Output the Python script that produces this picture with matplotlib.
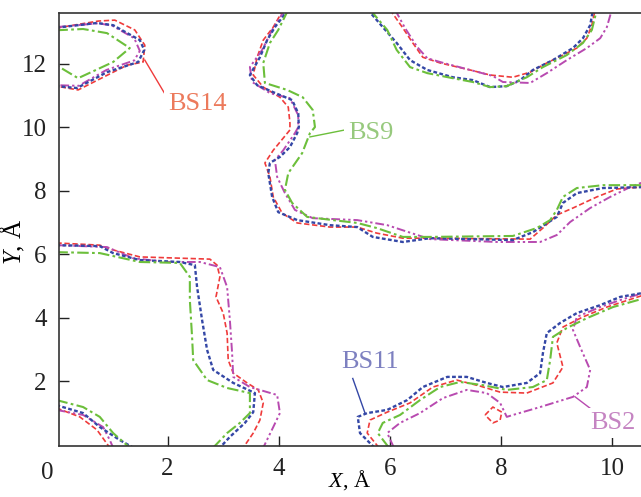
"""Contours of four binding sites (BS2, BS9, BS11, BS14) in the XY plane."""

import matplotlib

matplotlib.use("Agg")
import matplotlib.pyplot as plt  # noqa: E402

plt.rcParams["font.family"] = ["Liberation Serif", "DejaVu Serif"]
plt.rcParams["mathtext.fontset"] = "custom"
plt.rcParams["mathtext.rm"] = "Liberation Serif"
plt.rcParams["mathtext.it"] = "Liberation Serif:italic"

# contour pieces, (x, y) in angstrom
bs14_pieces = [
    [(0.0, 13.12), (0.75, 13.34), (1.05, 13.37), (1.41, 13.06), (1.59, 12.58), (1.56, 12.05),
     (1.27, 11.95), (0.39, 11.17), (0.0, 11.29)],
    [(4.08, 13.7), (3.90, 13.15), (3.72, 12.74), (3.61, 12.20), (3.54, 11.64), (3.72, 11.26),
     (4.02, 10.94), (4.17, 10.63), (4.20, 10.13), (4.20, 9.91), (3.90, 9.27), (3.75, 8.87),
     (3.84, 8.43), (3.90, 7.80), (4.06, 7.29), (4.33, 6.98), (4.92, 6.85), (5.41, 6.85),
     (5.76, 6.66), (6.23, 6.50), (6.72, 6.50), (8.52, 6.47), (8.75, 6.82), (9.00, 7.23),
     (9.29, 7.45), (9.72, 7.80), (10.08, 8.05), (10.6, 8.12)],
    [(6.00, 13.7), (6.22, 13.15), (6.41, 12.65), (6.59, 12.20), (6.90, 12.02), (7.44, 11.80),
     (7.80, 11.64), (8.21, 11.57), (8.52, 11.73), (8.82, 12.02), (9.11, 12.27), (9.36, 12.49),
     (9.54, 12.80), (9.63, 13.21), (9.69, 13.7)],
    [(0.0, 6.35), (0.78, 6.28), (1.02, 6.13), (1.50, 5.91), (2.22, 5.87), (2.76, 5.84),
     (2.89, 5.65), (2.94, 5.28), (2.87, 4.65), (3.00, 4.14), (3.07, 3.51), (3.09, 2.66),
     (3.18, 2.25), (3.43, 1.94), (3.63, 1.72), (3.72, 1.31), (3.66, 0.77), (3.54, 0.36),
     (3.36, -0.1)],
    [(0.0, 1.15), (0.42, 0.87), (0.73, 0.46), (0.96, -0.1)],
    [(5.80, -0.1), (5.59, 0.36), (5.64, 0.77), (5.95, 1.02), (6.36, 1.31), (6.77, 1.81),
     (7.20, 2.03), (7.62, 1.84), (7.98, 1.65), (8.46, 1.62), (8.93, 1.94), (9.11, 2.44),
     (9.00, 3.20), (9.11, 3.70), (9.47, 4.02), (9.90, 4.33), (10.6, 4.73)],
    [(7.71, 0.93), (7.85, 1.18), (8.01, 1.02), (7.98, 0.77), (7.85, 0.68), (7.71, 0.93)],
]

bs11_pieces = [
    [(0.0, 13.13), (0.73, 13.28), (1.02, 13.21), (1.50, 12.74), (1.58, 12.43), (1.47, 12.05),
     (0.91, 11.73), (0.37, 11.23), (0.0, 11.29)],
    [(4.17, 13.7), (3.93, 13.15), (3.79, 12.74), (3.66, 12.20), (3.48, 11.64), (3.61, 11.32),
     (3.90, 11.10), (4.24, 10.85), (4.35, 10.43), (4.36, 10.00), (4.33, 9.81), (4.20, 9.37),
     (4.02, 9.06), (3.84, 8.87), (3.81, 8.55), (3.88, 7.80), (3.99, 7.32), (4.33, 7.07),
     (4.92, 6.91), (5.41, 6.85), (5.69, 6.54), (6.23, 6.38), (6.72, 6.50), (8.21, 6.44),
     (8.57, 6.69), (9.00, 7.17), (9.11, 7.61), (9.36, 7.92), (9.83, 8.08), (10.6, 8.11)],
    [(5.60, 13.7), (5.87, 13.15), (6.12, 12.65), (6.36, 12.11), (6.67, 11.80), (7.13, 11.57),
     (7.49, 11.48), (7.80, 11.26), (8.10, 11.29), (8.34, 11.48), (8.57, 11.80), (8.93, 12.11),
     (9.29, 12.49), (9.47, 12.80), (9.60, 13.21), (9.65, 13.7)],
    [(0.0, 6.28), (0.78, 6.25), (1.02, 6.03), (1.50, 5.81), (2.22, 5.75), (2.49, 5.65),
     (2.53, 4.96), (2.62, 3.92), (2.71, 2.98), (2.82, 2.35), (3.18, 1.94), (3.57, 1.62),
     (3.54, 1.02), (3.39, 0.68), (3.12, 0.24), (2.94, -0.1)],
    [(0.0, 1.24), (0.48, 0.99), (0.78, 0.55), (1.14, 0.14), (1.38, -0.1)],
    [(5.72, -0.1), (5.46, 0.36), (5.42, 0.87), (5.59, 0.99), (5.95, 1.09), (6.31, 1.40),
     (6.59, 1.81), (7.03, 2.13), (7.38, 2.13), (7.74, 1.94), (8.03, 1.81), (8.46, 1.94),
     (8.70, 2.25), (8.75, 2.88), (8.82, 3.51), (9.06, 3.83), (9.36, 4.14), (9.78, 4.39),
     (10.14, 4.65), (10.6, 4.79)],
]

bs2_pieces = [
    [(0.0, 13.15), (0.75, 13.27), (1.00, 13.20), (1.40, 12.80), (1.50, 12.40), (1.40, 12.10),
     (0.90, 11.80), (0.40, 11.30), (0.0, 11.32)],
    [(4.11, 13.7), (3.88, 13.06), (3.70, 12.43), (3.48, 11.89), (3.52, 11.42), (3.84, 11.07),
     (4.20, 10.91), (4.35, 10.37), (4.35, 10.00), (4.29, 9.81), (4.08, 9.27), (3.93, 8.96),
     (3.97, 8.43), (4.11, 7.92), (4.29, 7.39), (4.61, 7.13), (5.41, 7.07), (5.95, 6.91),
     (6.49, 6.60), (6.72, 6.47), (7.92, 6.38), (8.70, 6.38), (9.00, 6.60), (9.24, 7.01),
     (9.60, 7.45), (9.96, 7.80), (10.32, 8.11), (10.6, 8.30)],
    [(6.09, 13.7), (6.27, 13.12), (6.49, 12.52), (6.67, 12.17), (6.90, 12.05), (7.44, 11.80),
     (7.85, 11.61), (8.03, 11.42), (8.52, 11.39), (8.82, 11.70), (9.18, 12.11), (9.54, 12.49),
     (9.78, 12.80), (9.90, 13.15), (9.99, 13.7)],
    [(0.0, 6.28), (0.91, 6.22), (1.38, 5.87), (1.99, 5.75), (2.58, 5.75), (2.94, 5.59),
     (3.07, 4.96), (3.12, 3.92), (3.16, 2.88), (3.18, 2.13), (3.48, 1.81), (3.97, 1.56),
     (4.02, 0.99), (3.90, 0.55), (3.72, -0.1)],
    [(0.0, 1.09), (0.48, 0.93), (0.84, 0.55), (0.96, 0.14), (1.02, -0.1)],
    [(6.07, -0.1), (5.95, 0.36), (6.18, 0.68), (6.54, 0.99), (6.95, 1.46), (7.38, 1.72),
     (7.74, 1.62), (7.98, 1.31), (8.10, 0.87), (8.21, 0.93), (8.70, 1.18), (9.29, 1.50),
     (9.54, 1.81), (9.60, 2.35), (9.42, 3.07), (9.29, 3.61), (9.36, 4.02), (9.78, 4.33),
     (10.14, 4.55), (10.6, 4.80)],
]

bs9_pieces = [
    [(0.0, 13.05), (0.48, 13.09), (0.91, 12.96), (1.32, 12.49), (1.02, 12.05), (0.39, 11.54),
     (0.0, 11.95)],
    [(4.17, 13.7), (3.99, 13.06), (3.84, 12.65), (3.72, 12.02), (3.75, 11.39), (4.15, 11.17),
     (4.43, 10.94), (4.61, 10.54), (4.65, 10.00), (4.56, 9.81), (4.42, 9.18), (4.17, 8.55),
     (4.11, 8.02), (4.24, 7.61), (4.51, 7.17), (4.97, 7.07), (5.41, 6.98), (5.76, 6.82),
     (6.23, 6.54), (6.72, 6.54), (8.21, 6.57), (8.64, 6.82), (8.88, 7.07), (9.00, 7.39),
     (9.11, 7.80), (9.36, 8.08), (9.83, 8.17), (10.6, 8.17)],
    [(5.64, 13.7), (5.95, 13.06), (6.12, 12.43), (6.36, 11.89), (6.67, 11.70), (7.13, 11.54),
     (7.49, 11.42), (7.80, 11.26), (8.10, 11.29), (8.46, 11.57), (8.75, 11.89), (9.18, 12.27),
     (9.47, 12.65), (9.63, 13.06), (9.72, 13.7)],
    [(0.0, 6.06), (0.78, 6.03), (1.09, 5.91), (1.50, 5.75), (2.22, 5.72), (2.40, 5.28),
     (2.40, 4.55), (2.44, 3.39), (2.46, 2.66), (2.71, 2.03), (3.07, 1.78), (3.48, 1.62),
     (3.48, 0.99), (3.30, 0.68), (3.07, 0.36), (2.82, -0.1)],
    [(0.0, 1.40), (0.48, 1.18), (0.78, 0.87), (1.02, 0.36), (1.32, -0.1)],
    [(5.98, -0.1), (5.78, 0.36), (5.87, 0.68), (6.18, 0.93), (6.54, 1.40), (6.90, 1.81),
     (7.26, 1.97), (7.67, 1.87), (8.10, 1.72), (8.57, 1.81), (8.82, 2.03), (8.88, 2.66),
     (8.93, 3.39), (9.18, 3.67), (9.54, 3.98), (10.01, 4.33), (10.6, 4.62)],
]

# name, pieces, line colour, dash pattern, width, label colour, label xy, leader start, leader end
series = [
    ("BS14", bs14_pieces, "#ef3b3b", (3.2, 1.6), 1.2, "#ec7a5c",
     (2.53, 10.72), (1.59, 12.11), (1.95, 11.05)),
    ("BS2", bs2_pieces, "#b84ab0", (4.5, 1.5, 1.2, 1.5, 1.2, 1.5), 1.4, "#c584c2",
     (10.0, 0.68), (9.33, 1.50), (9.72, 0.98)),
    ("BS11", bs11_pieces, "#3447a6", (1.6, 1.0), 1.7, "#7d80c0",
     (5.64, 2.60), (5.55, 0.99), (5.33, 2.08)),
    ("BS9", bs9_pieces, "#6cbf3b", (5.5, 1.6, 1.3, 1.6), 1.5, "#97c97d",
     (5.66, 9.81), (4.56, 9.69), (5.19, 9.91)),
]

fig = plt.figure(figsize=(6.41, 4.97), dpi=100)
ax = fig.add_axes([59.3 / 641, 51.3 / 497, 581.7 / 641, 433.2 / 497])

for name, pieces, color, dashes, lw, text_color, text_xy, lead_a, lead_b in series:
    for piece in pieces:
        xs = [p[0] for p in piece]
        ys = [p[1] for p in piece]
        ax.plot(xs, ys, color=color, lw=lw, linestyle=(0, dashes),
                solid_capstyle="butt", dash_capstyle="butt")
    ax.plot([lead_a[0], lead_b[0]], [lead_a[1], lead_b[1]], color=color, lw=1.0)
    ax.text(text_xy[0], text_xy[1], name, color=text_color, fontsize=19,
            ha="center", va="center",
            bbox=dict(boxstyle="square,pad=0.15", fc="white", ec="none"))

ax.set_xlim(0.052, 10.514)
ax.set_ylim(-0.038, 13.61)
ax.set_xticks([2, 4, 6, 8, 10])
ax.set_yticks([2, 4, 6, 8, 10, 12])
ax.tick_params(direction="in", length=7, width=1.0, labelsize=18, pad=9,
               colors="#222222")
# the "0" of the x axis sits at the corner, left of the spine
ax.text(-0.17, -0.0385, "0", transform=ax.get_xaxis_transform(),
        ha="center", va="top", fontsize=18, color="#222222")

for side in ("left", "bottom", "top"):
    ax.spines[side].set_linewidth(1.2)
    ax.spines[side].set_color("#333333")
ax.spines["right"].set_visible(False)

ax.set_xlabel(r"$\it{X}$, Å", fontsize=16)
ax.set_ylabel(r"$\it{Y}$, Å", fontsize=18)
ax.xaxis.set_label_coords(0.5, -0.052)
ax.yaxis.set_label_coords(-0.055, 0.47)

fig.savefig("out.png", dpi=100)
